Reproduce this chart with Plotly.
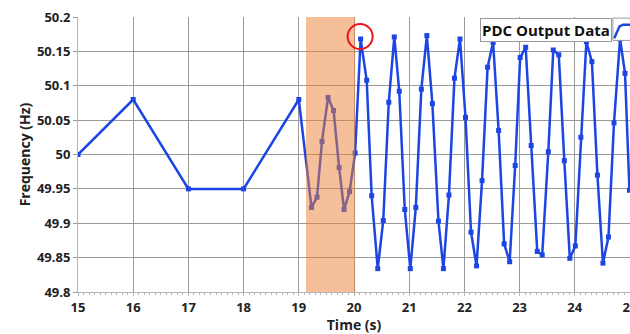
import plotly.graph_objects as go

# ---- data ----
time_s = [15, 16, 17, 18, 19.0,
          19.23, 19.33, 19.42, 19.53, 19.63, 19.73, 19.82, 19.92,
          20.02, 20.12, 20.23, 20.32, 20.43, 20.53, 20.63, 20.73, 20.82, 20.92,
          21.02, 21.12, 21.22, 21.32, 21.42, 21.53, 21.62, 21.72, 21.82, 21.92,
          22.02, 22.12, 22.22, 22.32, 22.42, 22.52, 22.62, 22.72, 22.82, 22.92,
          23.01, 23.11, 23.21, 23.32, 23.41, 23.52, 23.61, 23.71, 23.81, 23.91,
          24.01, 24.11, 24.21, 24.31, 24.41, 24.51, 24.61, 24.71, 24.82, 24.91,
          24.99]
freq_hz = [50.0, 50.08, 49.95, 49.95, 50.08,
           49.923, 49.938, 50.019, 50.083, 50.064, 49.981, 49.920, 49.946,
           50.002, 50.168, 50.108, 49.940, 49.834, 49.904, 50.076, 50.171, 50.092, 49.920,
           49.834, 49.923, 50.095, 50.173, 50.074, 49.903, 49.834, 49.941, 50.111, 50.168,
           50.054, 49.887, 49.838, 49.962, 50.127, 50.163, 50.035, 49.870, 49.844, 49.984,
           50.141, 50.156, 50.013, 49.859, 49.854, 50.004, 50.152, 50.145, 49.991, 49.849,
           49.867, 50.025, 50.164, 50.135, 49.970, 49.842, 49.880, 50.046, 50.168, 50.118,
           49.948]

x_ticks = [15, 16, 17, 18, 19, 20, 21, 22, 23, 24, 25]
y_ticks = [49.8, 49.85, 49.9, 49.95, 50.0, 50.05, 50.1, 50.15, 50.2]
y_tick_labels = ["49.8", "49.85", "49.9", "49.95", "50", "50.05", "50.1", "50.15", "50.2"]

shade_start, shade_end = 19.13, 20.02
circled_index = 14  # point highlighted with the red circle
legend_label = "PDC Output Data"

BLUE = "#1c45e3"
FONT = "Open Sans"

fig = go.Figure()
fig.add_trace(go.Scatter(
    x=time_s, y=freq_hz, mode="lines+markers", name=legend_label,
    line=dict(color=BLUE, width=2.5),
    marker=dict(symbol="square", size=5, color=BLUE),
    showlegend=False, cliponaxis=True,
))

# orange highlighted window (drawn above the line, semi-transparent)
fig.add_shape(type="rect", xref="x", yref="paper", x0=shade_start, x1=shade_end,
              y0=0, y1=1, fillcolor="rgb(236,128,52)", opacity=0.5,
              line=dict(width=0), layer="above")

# red circle around the peak point
fig.add_shape(type="circle", xref="x", yref="y",
              xsizemode="pixel", ysizemode="pixel",
              xanchor=time_s[circled_index], yanchor=freq_hz[circled_index],
              x0=-13, x1=12, y0=-10, y1=15,
              line=dict(color="#e8141b", width=2), layer="above")

# legend-like box at top right
fig.add_annotation(xref="paper", yref="paper", x=0.967, y=0.996,
                   xanchor="right", yanchor="top", showarrow=False,
                   text="<b>" + legend_label + "</b>",
                   font=dict(family=FONT, size=15, color="#111111"),
                   bgcolor="white", bordercolor="#9a9a9a", borderwidth=1, borderpad=1)
fig.add_shape(type="rect", xref="paper", yref="paper", x0=0.969, x1=1.01,
              y0=0.915, y1=0.996, fillcolor="white",
              line=dict(color="#9a9a9a", width=1), layer="above")
fig.add_shape(type="path", xref="paper", yref="paper",
              path="M 0.9715 0.923 L 0.981 0.966 L 0.9875 0.972 L 1.0 0.972",
              line=dict(color=BLUE, width=2.5), layer="above")

axis_font = dict(family=FONT, size=13, color="#222222", weight="bold")
fig.update_xaxes(
    range=[15, 25], tickvals=x_ticks, ticktext=[str(v) for v in x_ticks],
    showgrid=True, gridcolor="#999999", gridwidth=1,
    showline=True, linecolor="#b5b5b5", linewidth=1,
    ticks="outside", ticklen=3, tickcolor="#b5b5b5",
    minor=dict(dtick=0.1, ticks="outside", ticklen=2, tickcolor="#b5b5b5", showgrid=False),
    tickfont=axis_font, zeroline=False, automargin=False, ticklabeloverflow="allow",
    title=dict(text="<b>Time (s)</b>", font=dict(family=FONT, size=14, color="#222222"), standoff=2),
)
fig.update_yaxes(
    range=[49.8, 50.2], tickvals=y_ticks, ticktext=y_tick_labels,
    showgrid=True, gridcolor="#999999", gridwidth=1,
    showline=True, linecolor="#b5b5b5", linewidth=1,
    ticks="outside", ticklen=4, tickcolor="#9a9a9a",
    tickfont=axis_font, zeroline=False, automargin=False,
    title=dict(text="<b>Frequency (Hz)</b>", font=dict(family=FONT, size=14, color="#222222"), standoff=3),
)
fig.update_layout(
    width=630, height=334,
    margin=dict(l=78, r=0, t=17, b=42),
    paper_bgcolor="white", plot_bgcolor="white",
    showlegend=False,
)
fig.write_html("out.html", config={"displayModeBar": False},
               post_script="document.body.style.margin='0';document.body.style.overflow='hidden';")
